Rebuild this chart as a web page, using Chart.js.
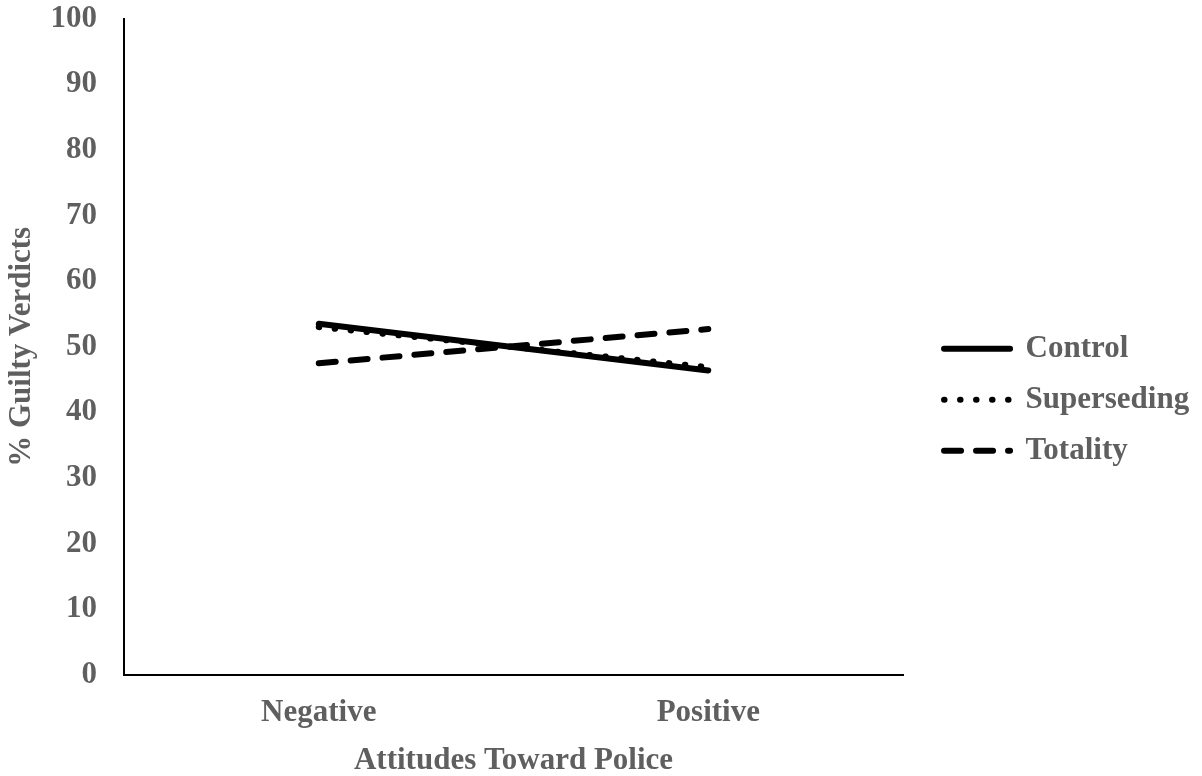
<!DOCTYPE html>
<html>
<head>
<meta charset="utf-8">
<script src="https://cdn.jsdelivr.net/npm/chart.js@4"></script>
<style>
  html, body { margin: 0; padding: 0; background: #ffffff; }
  #wrap { width: 1202px; height: 776px; }
</style>
</head>
<body>
<div id="wrap"><canvas id="c" width="1202" height="776"></canvas></div>
<script>
const categories = ["Negative", "Positive"];
const controlValues = [53.5, 46.4];
const supersedingValues = [53.0, 46.9];
const totalityValues = [47.5, 52.7];
const yTicks = [0, 10, 20, 30, 40, 50, 60, 70, 80, 90, 100];
const seriesNames = ["Control", "Superseding", "Totality"];

const TEXT = '#5f5f5f';
const FONT = "'Liberation Serif', 'Times New Roman', serif";
const CLEAR = 'rgba(0,0,0,0)';

const ctx = document.getElementById('c').getContext('2d');
new Chart(ctx, {
  type: 'line',
  data: {
    labels: categories,
    datasets: [
      { label: seriesNames[0], data: controlValues, borderColor: '#000', backgroundColor: '#000',
        borderWidth: 6, borderCapStyle: 'round', borderDash: [], pointRadius: 0, tension: 0 },
      { label: seriesNames[1], data: supersedingValues, borderColor: '#000', backgroundColor: '#000',
        borderWidth: 6, borderCapStyle: 'round', borderDash: [0.5, 15.5], pointRadius: 0, tension: 0 },
      { label: seriesNames[2], data: totalityValues, borderColor: '#000', backgroundColor: '#000',
        borderWidth: 6, borderCapStyle: 'round', borderDash: [17, 15], pointRadius: 0, tension: 0 }
    ]
  },
  options: {
    responsive: false,
    animation: false,
    devicePixelRatio: 1,
    layout: { padding: { left: 0, top: 1.4, right: 2.8, bottom: 0 } },
    plugins: {
      tooltip: { enabled: false },
      legend: {
        position: 'right',
        maxWidth: 300,
        title: { display: true, text: ' ', font: { size: 10, lineHeight: 1.2 }, padding: 5 },
        labels: {
          usePointStyle: true,
          pointStyle: 'line',
          pointStyleWidth: 66,
          boxWidth: 66,
          boxHeight: 6,
          padding: 20,
          color: TEXT,
          font: { family: FONT, size: 31, weight: 'bold', lineHeight: 1 },
          generateLabels: (chart) => {
            const items = Chart.defaults.plugins.legend.labels.generateLabels(chart);
            return items.map((item) => {
              const ds = chart.data.datasets[item.datasetIndex];
              item.lineDash = ds.borderDash;
              item.lineCap = ds.borderCapStyle;
              item.lineWidth = ds.borderWidth;
              item.strokeStyle = ds.borderColor;
              item.pointStyle = 'line';
              return item;
            });
          }
        }
      }
    },
    scales: {
      x: {
        type: 'category',
        offset: true,
        grid: { display: true, drawOnChartArea: false, drawTicks: true, tickLength: 19, color: CLEAR, tickColor: CLEAR },
        border: { display: true, color: '#000', width: 2 },
        ticks: { color: TEXT, padding: 0, font: { family: FONT, size: 31, weight: 'bold', lineHeight: 1.2 } },
        title: { display: true, text: 'Attitudes Toward Police', color: TEXT,
                 font: { family: FONT, size: 31, weight: 'bold', lineHeight: 1 },
                 padding: { top: 13.8, bottom: 0 } }
      },
      y: {
        min: 0, max: 100,
        afterBuildTicks: (scale) => { scale.ticks = yTicks.map(v => ({ value: v })); },
        grid: { display: true, drawOnChartArea: false, drawTicks: true, tickLength: 27, color: CLEAR, tickColor: CLEAR },
        border: { display: true, color: '#000', width: 2 },
        ticks: { color: TEXT, padding: 0, font: { family: FONT, size: 31, weight: 'bold', lineHeight: 1.2 } },
        title: { display: true, text: '% Guilty Verdicts', color: TEXT,
                 font: { family: FONT, size: 31, weight: 'bold', lineHeight: 1.2 },
                 padding: { top: 3, bottom: 10.3 } }
      },
      gap: {
        type: 'linear',
        position: 'right',
        display: true,
        grid: { display: false, drawTicks: false },
        border: { display: false },
        ticks: { display: false },
        afterFit: (scale) => { scale.width = 21; }
      }
    }
  }
});
</script>
</body>
</html>
